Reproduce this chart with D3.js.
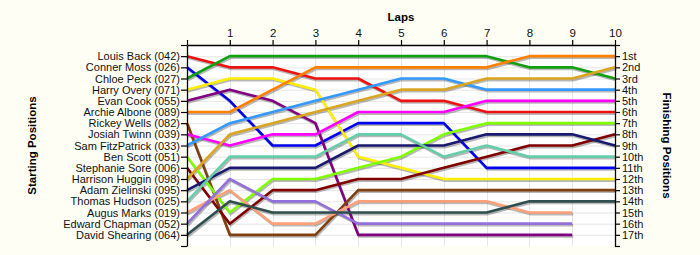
<!DOCTYPE html>
<html><head><meta charset="utf-8">
<script src="https://cdn.jsdelivr.net/npm/d3@7"></script>
<style>
html,body{margin:0;padding:0;background:#fefef4;}
svg{display:block;font-family:"Liberation Sans",Arial,sans-serif;}
</style></head><body>
<script>
const drivers = ["Louis Back (042)","Conner Moss (026)","Chloe Peck (027)","Harry Overy (071)","Evan Cook (055)","Archie Albone (089)","Rickey Wells (082)","Josiah Twinn (039)","Sam FitzPatrick (033)","Ben Scott (051)","Stephanie Sore (006)","Harrison Huggin (098)","Adam Zielinski (095)","Thomas Hudson (025)","Augus Marks (019)","Edward Chapman (052)","David Shearing (064)"];
const laps = [0,1,2,3,4,5,6,7,8,9,10];
const lapLabels = ["","1","2","3","4","5","6","7","8","9","10"];
const finishLabels = ["1st","2nd","3rd","4th","5th","6th","7th","8th","9th","10th","11th","12th","13th","14th","15th","16th","17th"];
// positions at laps 0..10 (null = not classified on that lap)
const louis    = [1,2,2,3,3,5,5,6,6,6,6];
const conner   = [2,5,9,9,7,7,7,11,11,11,11];
const chloe    = [3,1,1,1,1,1,1,1,2,2,3];
const harry    = [4,3,3,4,10,11,12,12,12,12,12];
const evan     = [5,4,5,7,17,17,17,17,17,17,null];
const archie   = [6,6,4,2,2,2,2,2,1,1,1];
const rickey   = [7,17,17,17,13,13,13,13,13,13,13];
const josiah   = [8,9,8,8,6,6,6,5,5,5,5];
const sam      = [9,7,6,5,4,3,3,4,4,4,4];
const ben      = [10,15,12,12,11,10,8,7,7,7,7];
const stephanie= [11,16,13,13,12,12,11,10,9,9,8];
const harrison = [12,8,7,6,5,4,4,3,3,3,2];
const adam     = [13,11,11,11,9,9,9,8,8,8,9];
const thomas   = [14,10,10,10,8,8,10,9,10,10,10];
const augus    = [15,13,16,16,14,14,14,14,15,15,null];
const edward   = [16,12,14,14,16,16,16,16,16,16,null];
const david    = [17,14,15,15,15,15,15,15,14,14,14];
const series = [louis,conner,chloe,harry,evan,archie,rickey,josiah,sam,ben,stephanie,harrison,adam,thomas,augus,edward,david];
const palette = ["#ee1111","#0000ee","#11a011","#ffee00","#800080","#ff8000","#7f4010","#ff00ff","#3399ff","#80ff00","#800000","#daa520","#191970","#66cdaa","#ffa07a","#9370db","#2f4f4f"];

const W=700,H=255;
const svg=d3.select("body").append("svg").attr("width",W).attr("height",H);
const x=d3.scaleLinear().domain([0,10]).range([187,615]);
const y=d3.scaleLinear().domain([0,18]).range([45,246]);

svg.append("rect").attr("x",x(0)).attr("y",y(0)).attr("width",x(10)-x(0)).attr("height",y(18)-y(0)).attr("fill","#ffffff");

// grid
const g=svg.append("g");
g.selectAll("line.h").data(d3.range(1,18)).join("line")
 .attr("x1",x(0)).attr("x2",x(10)).attr("y1",d=>y(d)+0.5).attr("y2",d=>y(d)+0.5)
 .attr("stroke","#e6e6e6").attr("stroke-width",1);
g.selectAll("line.v").data(d3.range(1,10)).join("line")
 .attr("y1",y(0)).attr("y2",y(18)).attr("x1",d=>Math.round(x(d))+0.5).attr("x2",d=>Math.round(x(d))+0.5)
 .attr("stroke","#e6e6e6").attr("stroke-width",1);

const line=d3.line().defined(d=>d!=null).x((d,i)=>x(laps[i])).y(d=>y(d));

// shadows
svg.append("g").selectAll("path").data(series).join("path")
 .attr("d",line).attr("fill","none").attr("stroke","#000").attr("stroke-opacity",0.28)
 .attr("stroke-width",2.6).attr("transform","translate(1,1.6)");
svg.append("g").selectAll("path").data(series).join("path")
 .attr("d",line).attr("fill","none").attr("stroke",(d,i)=>palette[i])
 .attr("stroke-width",2.6).attr("stroke-linejoin","round");

// axes
const ax=svg.append("g").attr("transform",`translate(0,${y(0)})`)
 .call(d3.axisTop(x).tickValues(laps).tickFormat((d,i)=>lapLabels[i]).tickSize(5).tickSizeOuter(0).tickPadding(3));
const ly=svg.append("g").attr("transform",`translate(${x(0)},0)`)
 .call(d3.axisLeft(y).tickValues(d3.range(0,19)).tickFormat(d=>(d>=1&&d<=17)?drivers[d-1]:"").tickSize(6).tickSizeOuter(0).tickPadding(1));
const ry=svg.append("g").attr("transform",`translate(${x(10)},0)`)
 .call(d3.axisRight(y).tickValues(d3.range(0,19)).tickFormat(d=>(d>=1&&d<=17)?finishLabels[d-1]:"").tickSize(5).tickSizeOuter(0).tickPadding(2));
[ax,ly,ry].forEach(a=>{
  a.selectAll("path.domain").attr("stroke","#000").attr("stroke-width",1.3);
  a.selectAll(".tick line").attr("stroke","#000").attr("stroke-width",1.2);
  a.selectAll("text").attr("font-size","11px").attr("fill","#111").attr("font-family","'Liberation Sans',Arial,sans-serif");
});
ax.selectAll("text").attr("font-size","11.5px");

svg.append("text").attr("x",(x(0)+x(10))/2).attr("y",21).attr("text-anchor","middle")
 .attr("font-weight","bold").attr("font-size","11.5px").text("Laps");
svg.append("text").attr("transform",`translate(36,${(y(0)+y(18))/2}) rotate(-90)`).attr("text-anchor","middle")
 .attr("font-weight","bold").attr("font-size","11.5px").text("Starting Positions");
svg.append("text").attr("transform",`translate(663,${(y(0)+y(18))/2}) rotate(90)`).attr("text-anchor","middle")
 .attr("font-weight","bold").attr("font-size","11.5px").text("Finishing Positions");
</script>
</body></html>
